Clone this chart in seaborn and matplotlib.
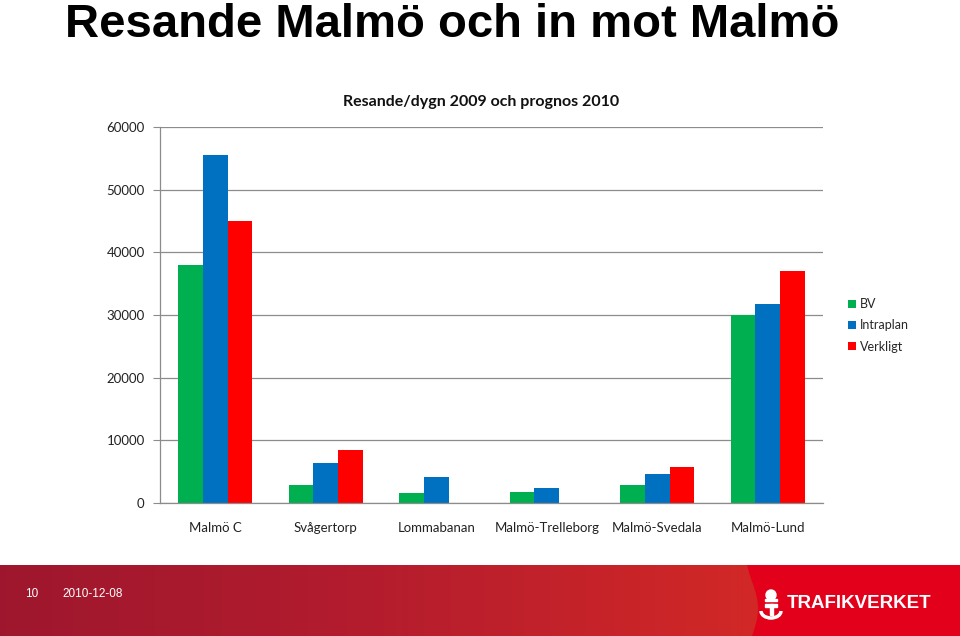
import numpy as np
import pandas as pd
import matplotlib
matplotlib.use("Agg")
import matplotlib.pyplot as plt
import seaborn as sns
from matplotlib.patches import Polygon, Rectangle, Circle, Arc

categories = ["Malmö C", "Svågertorp", "Lommabanan", "Malmö-Trelleborg", "Malmö-Svedala", "Malmö-Lund"]
series_names = ["BV", "Intraplan", "Verkligt"]
bv = [38000, 2900, 1600, 1750, 2900, 30000]
intraplan = [55500, 6400, 4150, 2400, 4600, 31750]
verkligt = [45000, 8500, np.nan, np.nan, 5700, 37000]
yticks = [0, 10000, 20000, 30000, 40000, 50000, 60000]
colors = ["#00b050", "#0070c0", "#ff0000"]

rows = []
for name, vals in zip(series_names, [bv, intraplan, verkligt]):
    for c, v in zip(categories, vals):
        rows.append({"Station": c, "Serie": name, "Resande": v})
df = pd.DataFrame(rows)

sns.set_style("white")
plt.rcParams["font.family"] = ["Lato", "DejaVu Sans"]

fig = plt.figure(figsize=(9.6, 6.36), dpi=100)
ax = fig.add_axes([160/960, 1-503/636, 663/960, 376/636])

sns.barplot(data=df, x="Station", y="Resande", hue="Serie", order=categories,
            hue_order=series_names, palette=colors, width=0.67, ax=ax,
            saturation=1, errorbar=None, edgecolor="none", linewidth=0)

ax.set_ylim(0, 60000)
ax.set_xlim(-0.5, len(categories) - 0.5)
ax.set_yticks(yticks)
ax.set_yticklabels([str(t) for t in yticks], fontsize=9.5, color="#222222")
ax.set_xticks(range(len(categories)))
ax.set_xticklabels(categories, fontsize=9.5, color="#222222")
ax.set_xticks(np.arange(-0.5, len(categories) + 0.5, 1), minor=True)
ax.tick_params(axis="x", which="major", length=0, pad=14)
ax.tick_params(axis="x", which="minor", length=5, color="#8c8c8c", direction="out")
ax.tick_params(axis="y", which="major", length=5, color="#8c8c8c", direction="out", pad=6, left=True)
ax.set_xlabel("")
ax.set_ylabel("")
ax.yaxis.grid(True, color="#8c8c8c", linewidth=0.9)
ax.set_axisbelow(True)
for s in ["top", "right"]:
    ax.spines[s].set_visible(False)
for s in ["left", "bottom"]:
    ax.spines[s].set_color("#8c8c8c")
    ax.spines[s].set_linewidth(0.9)

leg = ax.legend(loc="upper left", bbox_to_anchor=(843/960, 1-293/636),
                bbox_transform=fig.transFigure, frameon=False, fontsize=9,
                handlelength=0.6, handleheight=0.6, handletextpad=0.35,
                labelspacing=0.75, borderaxespad=0)

fig.text(481/960, 1-102/636, "Resande/dygn 2009 och prognos 2010", ha="center", va="center",
         fontsize=11.5, fontweight="bold", color="#111111")

fig.text(452/960, 1-37/636, "Resande Malmö och in mot Malmö", ha="center", va="baseline",
         fontsize=34, fontweight="bold", family=["Liberation Sans Narrow", "Liberation Sans", "DejaVu Sans"],
         color="black")

# footer
fax = fig.add_axes([0, 0, 1, 71/636])
fax.set_xlim(0, 960)
fax.set_ylim(0, 71)
fax.axis("off")
grad_cols = np.array([[0.62, 0.09, 0.18], [0.70, 0.11, 0.18], [0.83, 0.16, 0.15]])
xs = np.linspace(0, 1, 256)
img = np.zeros((1, 256, 3))
for k in range(3):
    img[0, :, k] = np.interp(xs, [0, 0.45, 1.0], grad_cols[:, k])
fax.imshow(img, extent=[0, 780, 0, 71], aspect="auto", zorder=0)
wy = np.linspace(0, 71, 30)
wx = 752 + 6*np.sin(wy/71*np.pi*1.3)
poly = np.vstack([np.column_stack([wx, wy]), [[960, 71], [960, 0]]])
fax.add_patch(Polygon(poly, closed=True, facecolor="#e2001a", edgecolor="none", zorder=1))
fax.text(25, 71-29, "10", color="white", fontsize=8.5, va="center", ha="left",
         family=["Liberation Sans Narrow", "Liberation Sans"])
fax.text(62, 71-29, "2010-12-08", color="white", fontsize=8.5, va="center", ha="left",
         family=["Liberation Sans Narrow", "Liberation Sans"])
fax.text(787, 71-38, "TRAFIKVERKET", color="white", fontsize=13.5, fontweight="bold", va="center",
         ha="left", family=["Liberation Sans Narrow", "Liberation Sans"])
# emblem
fax.add_patch(Rectangle((765, 71-42), 12, 3, color="white", zorder=3))
fax.add_patch(Rectangle((769.5, 71-50), 3, 11, color="white", zorder=3))
fax.add_patch(Arc((771, 71-46), 20, 14, theta1=180, theta2=360, color="white", lw=2.5, zorder=3))
fax.add_patch(Circle((771, 71-30), 5, color="white", zorder=3))
fax.add_patch(Rectangle((765, 71-36), 12, 2.5, color="white", zorder=3))

fig.savefig("out.png", dpi=100)
